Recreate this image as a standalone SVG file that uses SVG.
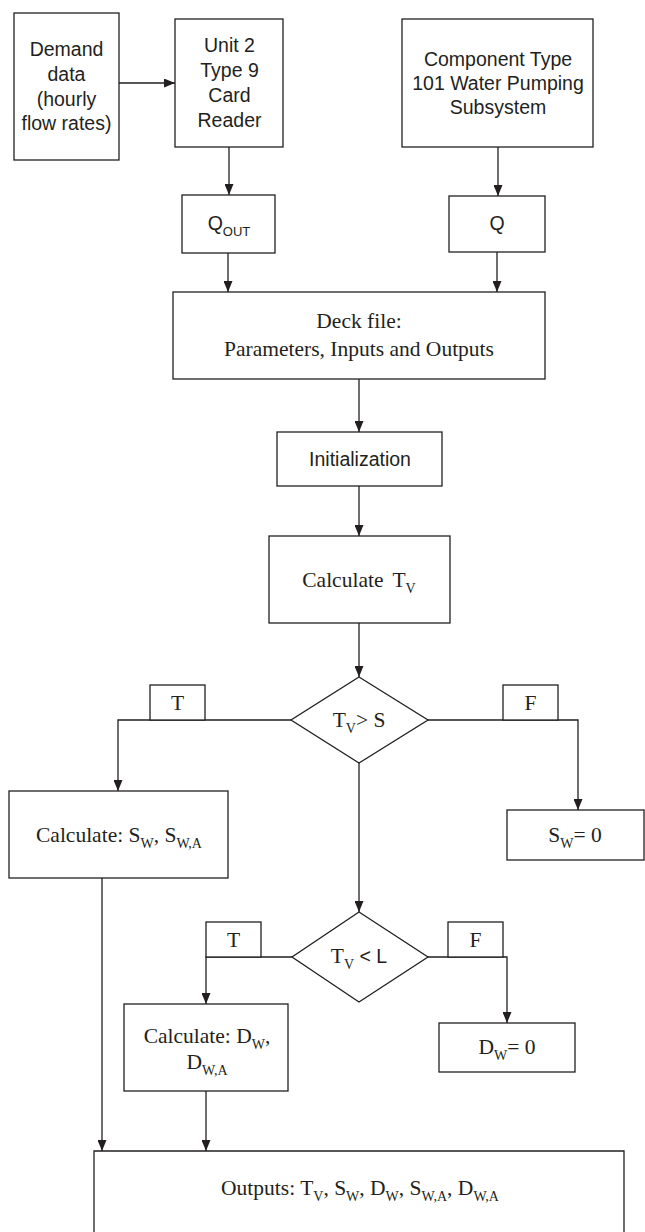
<svg xmlns="http://www.w3.org/2000/svg" width="645" height="1232" viewBox="0 0 645 1232">
<style>
.box{fill:#fff;stroke:#231f20;stroke-width:1.3}
.lbl{fill:#fff;stroke:#231f20;stroke-width:1.3}
.con{fill:none;stroke:#231f20;stroke-width:1.3}
.sans{font-family:"Liberation Sans",Arial,sans-serif;font-size:19.5px;fill:#231f20;text-anchor:middle}
.serif{font-family:"Liberation Serif","Times New Roman",serif;font-size:21.5px;fill:#231f20;text-anchor:middle}
.sub{font-size:14px}
.ssub{font-size:13px}
</style>
<defs>
<marker id="arrow" viewBox="0 0 11 9" refX="11" refY="4.5" markerWidth="11" markerHeight="9" markerUnits="userSpaceOnUse" orient="auto">
<path d="M0,0 L11,4.5 L0,9 z" fill="#231f20"/>
</marker>
</defs>
<rect width="645" height="1232" fill="#fff"/>
<g id="connectors">
<path class="con" marker-end="url(#arrow)" d="M119,83 H175"/>
<path class="con" marker-end="url(#arrow)" d="M229,147 V195"/>
<path class="con" marker-end="url(#arrow)" d="M498,147 V196"/>
<path class="con" marker-end="url(#arrow)" d="M228,253 V292"/>
<path class="con" marker-end="url(#arrow)" d="M497,252 V292"/>
<path class="con" marker-end="url(#arrow)" d="M359,379 V432"/>
<path class="con" marker-end="url(#arrow)" d="M359,486 V536"/>
<path class="con" marker-end="url(#arrow)" d="M359,623 V677"/>
<path class="con" marker-end="url(#arrow)" d="M291,720 H118 V791"/>
<path class="con" marker-end="url(#arrow)" d="M428,720 H578 V810"/>
<path class="con" marker-end="url(#arrow)" d="M359,763 V912"/>
<path class="con" marker-end="url(#arrow)" d="M292,957 H206 V1004"/>
<path class="con" marker-end="url(#arrow)" d="M428,957 H507 V1023"/>
<path class="con" marker-end="url(#arrow)" d="M102,878 V1151"/>
<path class="con" marker-end="url(#arrow)" d="M206,1091 V1151"/>
</g>
<g id="demand">
<rect class="box" x="14" y="13" width="105" height="147"/>
<text class="sans" x="66.5" y="56">Demand</text>
<text class="sans" x="66.5" y="81">data</text>
<text class="sans" x="66.5" y="106">(hourly</text>
<text class="sans" x="66.5" y="130">flow rates)</text>
</g>
<g id="unit2">
<rect class="box" x="175" y="19" width="108" height="128"/>
<text class="sans" x="229.5" y="52">Unit 2</text>
<text class="sans" x="229.5" y="77">Type 9</text>
<text class="sans" x="229.5" y="102">Card</text>
<text class="sans" x="229.5" y="127">Reader</text>
</g>
<g id="component">
<rect class="box" x="402" y="19" width="191" height="128"/>
<text class="sans" x="498" y="66">Component Type</text>
<text class="sans" x="498" y="90">101 Water Pumping</text>
<text class="sans" x="498" y="114">Subsystem</text>
</g>
<g id="qout">
<rect class="box" x="182" y="195" width="93" height="58"/>
<text class="sans" x="229" y="230">Q<tspan class="ssub" dy="6">OUT</tspan></text>
</g>
<g id="q">
<rect class="box" x="449" y="196" width="96" height="56"/>
<text class="sans" x="497" y="230">Q</text>
</g>
<g id="deck">
<rect class="box" x="173" y="292" width="372" height="87"/>
<text class="serif" x="359" y="328">Deck file:</text>
<text class="serif" x="359" y="356">Parameters, Inputs and Outputs</text>
</g>
<g id="init">
<rect class="box" x="277" y="432" width="165" height="54"/>
<text class="sans" x="360" y="466">Initialization</text>
</g>
<g id="calcTv">
<rect class="box" x="269" y="536" width="181" height="87"/>
<text class="serif" x="359" y="587">Calculate<tspan dx="9">T</tspan><tspan class="sub" dy="6">V</tspan></text>
</g>
<g id="dec1">
<polygon class="box" points="359,677 428,720 359,763 291,720"/>
<text class="serif" x="359" y="727">T<tspan class="sub" dy="6">V</tspan><tspan dy="-6">&gt; S</tspan></text>
</g>
<g id="lblT1">
<rect class="lbl" x="150" y="685" width="55" height="35"/>
<text class="serif" x="177.5" y="710">T</text>
</g>
<g id="lblF1">
<rect class="lbl" x="503" y="685" width="55" height="35"/>
<text class="serif" x="530.5" y="710">F</text>
</g>
<g id="calcSw">
<rect class="box" x="9" y="791" width="219" height="87"/>
<text class="serif" x="119" y="842">Calculate: S<tspan class="sub" dy="6">W</tspan><tspan dy="-6">, S</tspan><tspan class="sub" dy="6">W,A</tspan></text>
</g>
<g id="sw0">
<rect class="box" x="507" y="810" width="137" height="50"/>
<text class="serif" x="575" y="842">S<tspan class="sub" dy="6">W</tspan><tspan dy="-6">= 0</tspan></text>
</g>
<g id="dec2">
<polygon class="box" points="359,912 428,957 359,1002 292,957"/>
<text class="serif" x="359" y="963">T<tspan class="sub" dy="6">V</tspan><tspan dy="-6" font-family="Liberation Sans, Arial, sans-serif" font-size="19.5"> &lt; L</tspan></text>
</g>
<g id="lblT2">
<rect class="lbl" x="206" y="922" width="55" height="35"/>
<text class="serif" x="233.5" y="947">T</text>
</g>
<g id="lblF2">
<rect class="lbl" x="448" y="922" width="55" height="35"/>
<text class="serif" x="475.5" y="947">F</text>
</g>
<g id="calcDw">
<rect class="box" x="124" y="1004" width="164" height="87"/>
<text class="serif" x="207" y="1043">Calculate: D<tspan class="sub" dy="6">W</tspan><tspan dy="-6">,</tspan></text>
<text class="serif" x="207" y="1069">D<tspan class="sub" dy="6">W,A</tspan></text>
</g>
<g id="dw0">
<rect class="box" x="439" y="1023" width="136" height="49"/>
<text class="serif" x="507" y="1054">D<tspan class="sub" dy="6">W</tspan><tspan dy="-6">= 0</tspan></text>
</g>
<g id="outputs">
<path class="box" d="M94,1232 V1151 H624 V1232"/>
<text class="serif" x="360" y="1195">Outputs: T<tspan class="sub" dy="6">V</tspan><tspan dy="-6">, S</tspan><tspan class="sub" dy="6">W</tspan><tspan dy="-6">, D</tspan><tspan class="sub" dy="6">W</tspan><tspan dy="-6">, S</tspan><tspan class="sub" dy="6">W,A</tspan><tspan dy="-6">, D</tspan><tspan class="sub" dy="6">W,A</tspan></text>
</g>
</svg>
